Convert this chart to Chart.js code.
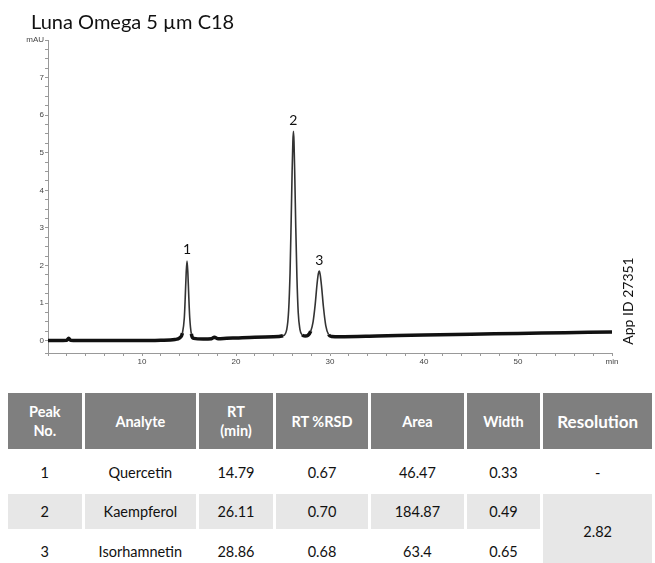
<!DOCTYPE html>
<html>
<head>
<meta charset="utf-8">
<script src="https://cdn.jsdelivr.net/npm/chart.js@4.4.0/dist/chart.umd.min.js"></script>
<style>
  body { margin: 0; background: #fff; width: 655px; height: 563px; overflow: hidden; position: relative; font-family: Lato, "Open Sans", sans-serif; }
  #wrap { position: absolute; left: 0; top: 0; width: 655px; height: 375px; }
  table { position: absolute; left: 5px; top: 392px; border-collapse: separate; border-spacing: 3px 1px; table-layout: fixed; }
  th { background: #7f7f7f; color: #fff; font-weight: bold; font-size: 14.5px; height: 56px; padding: 0; line-height: 19px; }
  th.big { font-size: 17px; }
  td { text-align: center; font-size: 14.5px; color: #111; padding: 0; }
  tr.r1 td { height: 41px; padding-top: 2px; }
  tr.r2 td { height: 35px; background: #e7e7e7; }
  tr.r3 td { height: 35px; padding-top: 4px; }
  td.res { background: #e7e7e7; }
</style>
</head>
<body>
<div id="wrap"><canvas id="chrom"></canvas></div>
<table id="tbl"></table>
<script>
// chromatogram trace (min, mAU)
var timeMin = [0, 1, 2, 2.2, 2.4, 4, 6, 8, 10, 12, 13.5,
  14.0, 14.3, 14.5, 14.6, 14.7, 14.79, 14.88, 14.98, 15.08, 15.25, 15.5,
  16.5, 17.4, 17.7, 18.1, 19, 20, 22, 24,
  25.0, 25.4, 25.6, 25.75, 25.87, 25.97, 26.05, 26.11, 26.17, 26.26, 26.36, 26.48, 26.62, 26.8, 27.05,
  27.35, 27.65, 27.95, 28.2, 28.42, 28.62, 28.76, 28.86, 28.96, 29.1, 29.3, 29.55, 29.85, 30.2,
  31, 35, 40, 45, 50, 55, 60];
var mAU = [0.0, 0.0, 0.01, 0.06, 0.01, 0.0, 0.0, 0.0, 0.0, 0.01, 0.03,
  0.07, 0.2, 0.6, 1.15, 1.8, 2.12, 1.8, 1.15, 0.6, 0.18, 0.06,
  0.04, 0.05, 0.09, 0.05, 0.06, 0.07, 0.09, 0.1,
  0.13, 0.3, 0.8, 1.8, 3.2, 4.5, 5.3, 5.57, 5.3, 4.3, 3.0, 1.7, 0.75, 0.3, 0.15,
  0.12, 0.14, 0.25, 0.5, 0.95, 1.5, 1.78, 1.85, 1.75, 1.45, 0.9, 0.4, 0.16, 0.11,
  0.1, 0.12, 0.15, 0.17, 0.19, 0.21, 0.23];

// peak labels
var peakLabel = ['1', '2', '3'];
var peakTime = [14.79, 26.11, 28.86];
var peakTop = [2.12, 5.57, 1.85];

// table
var peakNo = ['1', '2', '3'];
var analyte = ['Quercetin', 'Kaempferol', 'Isorhamnetin'];
var rt = ['14.79', '26.11', '28.86'];
var rtRsd = ['0.67', '0.70', '0.68'];
var area = ['46.47', '184.87', '63.4'];
var width = ['0.33', '0.49', '0.65'];
var resolution = ['-', '2.82'];

var pts = timeMin.map(function (t, i) { return { x: t, y: mAU[i] }; });

// baseline drawn heavier (noisy band), peaks thin
function onBase(ctx) { return ctx.p0.parsed.y < 0.28 && ctx.p1.parsed.y < 0.28; }

var extras = {
  id: 'extras',
  afterDraw: function (chart) {
    var c = chart.ctx, xs = chart.scales.x, ys = chart.scales.y;
    c.save();
    c.fillStyle = '#111';
    c.font = '20px Lato, "Open Sans", sans-serif';
    c.textAlign = 'left';
    c.textBaseline = 'alphabetic';
    c.fillText('Luna Omega 5 \u00b5m C18', 31, 29);

    c.font = '14px Lato, "Open Sans", sans-serif';
    c.textAlign = 'center';
    c.textBaseline = 'bottom';
    peakLabel.forEach(function (l, i) {
      c.fillText(l, xs.getPixelForValue(peakTime[i]), ys.getPixelForValue(peakTop[i]) - 4);
    });

    c.translate(628, 301);
    c.rotate(-Math.PI / 2);
    c.textBaseline = 'middle';
    c.fillText('App ID 27351', 0, 0);
    c.restore();
  }
};

new Chart(document.getElementById('chrom'), {
  type: 'line',
  data: {
    datasets: [{
      data: pts,
      borderColor: '#111',
      borderWidth: 3,
      pointRadius: 0,
      cubicInterpolationMode: 'monotone',
      segment: {
        borderWidth: function (ctx) { return onBase(ctx) ? 3.5 : 1.6; },
        borderColor: function (ctx) { return onBase(ctx) ? '#111' : '#333'; }
      }
    }]
  },
  options: {
    responsive: true,
    maintainAspectRatio: false,
    animation: false,
    layout: { padding: { top: 40, right: 43, left: 0, bottom: 0 } },
    plugins: { legend: { display: false }, tooltip: { enabled: false } },
    scales: {
      x: {
        type: 'linear', min: 0, max: 60,
        border: { color: '#999', width: 1 },
        grid: { drawOnChartArea: false, drawTicks: true, tickLength: 3, color: '#999' },
        ticks: {
          stepSize: 2, autoSkip: false, maxRotation: 0, padding: 1,
          color: '#444', font: { size: 8, family: '"Liberation Sans", Arial, sans-serif' },
          callback: function (v) { return v === 60 ? 'min' : (v > 0 && v % 10 === 0 ? String(v) : ''); }
        },
        afterFit: function (s) { s.height = 22; }
      },
      y: {
        min: -0.33, max: 8,
        border: { color: '#999', width: 1 },
        grid: { drawOnChartArea: false, drawTicks: true, tickLength: 3, color: '#999' },
        ticks: {
          stepSize: 0.25, autoSkip: false, padding: 1,
          color: '#444', font: { size: 8, family: '"Liberation Sans", Arial, sans-serif' },
          callback: function (v) { return v === 8 ? 'mAU' : (v >= 0 && Number.isInteger(v) ? String(v) : ''); }
        },
        afterFit: function (s) { s.width = 48; }
      }
    }
  },
  plugins: [extras]
});

// build table
var tbl = document.getElementById('tbl');
var colW = [74, 112, 74, 93, 93, 74, 109];
var html = '<colgroup>' + colW.map(function (w) { return '<col style="width:' + w + 'px">'; }).join('') + '</colgroup>';
html += '<tr><th>Peak<br>No.</th><th>Analyte</th><th>RT<br>(min)</th><th>RT %RSD</th><th>Area</th><th>Width</th><th class="big">Resolution</th></tr>';
for (var i = 0; i < 3; i++) {
  html += '<tr class="r' + (i + 1) + '"><td>' + peakNo[i] + '</td><td>' + analyte[i] + '</td><td>' + rt[i] + '</td><td>' +
    rtRsd[i] + '</td><td>' + area[i] + '</td><td>' + width[i] + '</td>';
  if (i === 0) html += '<td>' + resolution[0] + '</td>';
  if (i === 1) html += '<td class="res" rowspan="2">' + resolution[1] + '</td>';
  html += '</tr>';
}
tbl.innerHTML = html;
</script>
</body>
</html>
